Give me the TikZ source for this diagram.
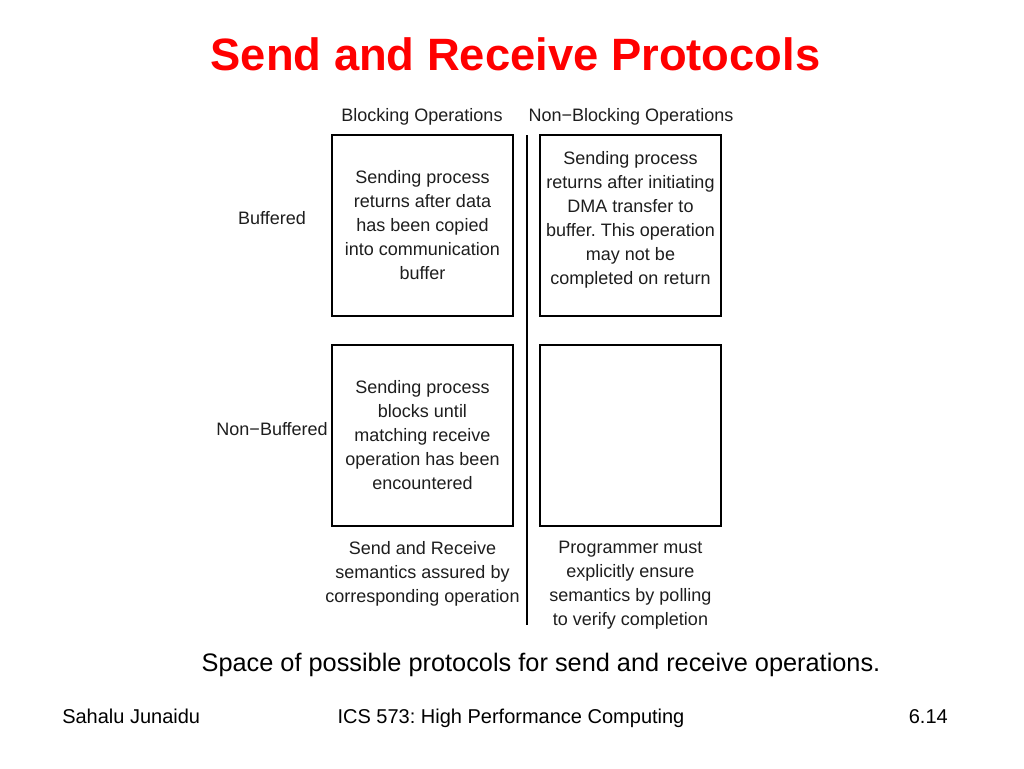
\documentclass[tikz,border=0pt]{standalone}
\usepackage{fontspec}
\setmainfont{Liberation Sans}
\usepackage{xcolor}
\usetikzlibrary{positioning}
\definecolor{titlered}{RGB}{255,0,0}
\definecolor{figtext}{RGB}{30,30,30}
\frenchspacing

\begin{document}
\begin{tikzpicture}[
    x=0.75pt, y=-0.75pt,
    node distance=11pt and 3pt,
    box/.style={draw, line width=0.9pt, minimum width=135.75pt, minimum height=135.75pt, align=center, text=figtext, font=\fontsize{13.5}{18}\selectfont},
    hdr/.style={inner sep=0pt, text=figtext, font=\fontsize{13.5}{18}\selectfont},
    note/.style={inner sep=0pt, align=center, text=figtext, font=\fontsize{13.5}{18}\selectfont},
    foot/.style={inner sep=0pt, anchor=base, font=\fontsize{15}{18}\selectfont}
]
    \useasboundingbox[fill=white] (0,0) rectangle (1024,768);
    \node[anchor=base, inner sep=0pt, text=titlered, font=\fontsize{34}{40}\selectfont\bfseries] (title) at (515.5,70) {Send and Receive Protocols};
    % the four cases
    \node[box] (bufblk) at (422.5,225.5) {Sending process\\returns after data\\has been copied\\into communication\\buffer};
    \node[box, inner ysep=6pt] (bufnblk) at (630.5,225.5) {Sending process\\returns after initiating\\DMA transfer to\\buffer. This operation\\may not be\\completed on return\\[-6pt]};
    \node[box] (nbufblk) at (422.5,435.5) {Sending process\\blocks until\\matching receive\\operation has been\\encountered};
    \node[box] (nbufnblk) at (630.5,435.5) {};
    % column and row headings
    \node[hdr, anchor=base] (blk) at (422,121) {Blocking Operations};
    \node[hdr, anchor=base] (nblk) at (631,121) {Non−Blocking Operations};
    \node[hdr, anchor=base] (rowbuf) at (272,224) {Buffered};
    \node[hdr, anchor=base east] (rownbuf) at (328,435) {Non−Buffered};
    \node[note, below=of nbufblk] (semblk) {Send and Receive\\semantics assured by\\corresponding operation};
    \node[note, below=of nbufnblk] (semnblk) {Programmer must\\explicitly ensure\\semantics by polling\\to verify completion};
    \coordinate (divtop) at (527,135);
    \coordinate (divbot) at (527,625);
    \draw[line width=1.1pt] (divtop) -- (divbot);
    \node[anchor=base, inner sep=0pt, font=\fontsize{19}{23}\selectfont] (capt) at (541,671) {Space of possible protocols for send and receive operations.};
    % footer
    \node[foot, anchor=base west] (author) at (62,723) {Sahalu Junaidu};
    \node[foot] (course) at (511,723) {ICS 573: High Performance Computing};
    \node[foot, anchor=base east] (page) at (948,723) {6.14};
\end{tikzpicture}
\end{document}
